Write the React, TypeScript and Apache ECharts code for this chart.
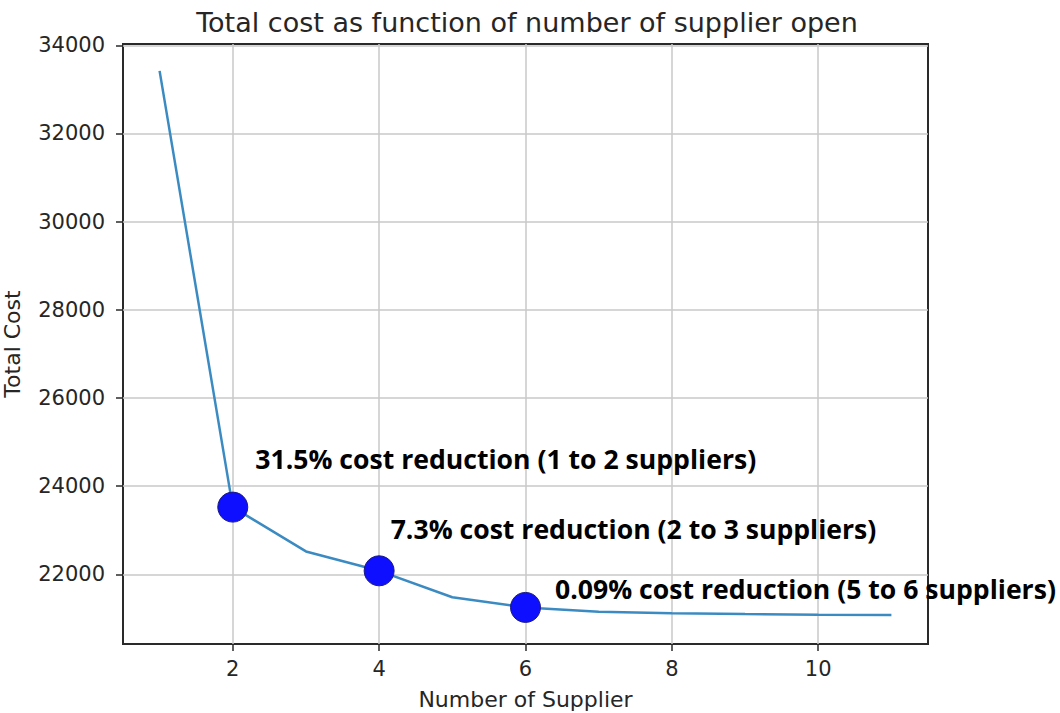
import React, { useEffect, useRef } from "react";
import * as echarts from "echarts";

const suppliers = [1, 2, 3, 4, 5, 6, 7, 8, 9, 10, 11];
const totalCost = [33420, 23525, 22520, 22080, 21480, 21250, 21150, 21120, 21100, 21085, 21075];
const highlightX = [2, 4, 6];
const highlightLabels = [
  "31.5% cost reduction (1 to 2 suppliers)",
  "7.3% cost reduction (2 to 3 suppliers)",
  "0.09% cost reduction (5 to 6 suppliers)",
];
const xTicks = [2, 4, 6, 8, 10];
const yTicks = [22000, 24000, 26000, 28000, 30000, 32000, 34000];

const labelOffsets: [number, number][] = [
  [2, -48],
  [-9, -42],
  [9, -18],
];

export default function App() {
  const ref = useRef<HTMLDivElement>(null);
  useEffect(() => {
    if (!ref.current) return;
    const chart = echarts.init(ref.current, null, { renderer: "svg" });
    const axisFont = { fontFamily: "DejaVu Sans", fontSize: 21, color: "#262626" };
    const highlight = highlightX.map((x, i) => ({
      value: [x, totalCost[suppliers.indexOf(x)]],
      label: {
        show: true,
        position: "right",
        offset: labelOffsets[i],
        formatter: highlightLabels[i],
        fontFamily: "Open Sans",
        fontWeight: "bold",
        fontSize: 26.6,
        color: "#000",
      },
    }));
    chart.setOption({
      animation: false,
      title: {
        text: "Total cost as function of number of supplier open",
        left: 522,
        textAlign: "center",
        top: 4,
        textStyle: { fontFamily: "DejaVu Sans", fontSize: 27, fontWeight: "normal", color: "#262626" },
      },
      grid: {
        left: 123,
        top: 44,
        right: 132,
        bottom: 69,
        show: true,
        borderColor: "#2a2a2a",
        borderWidth: 2,
        containLabel: false,
        outerBoundsMode: "none",
      },
      xAxis: {
        type: "value",
        min: 0.5,
        max: 11.5,
        name: "Number of Supplier",
        nameLocation: "middle",
        nameGap: 44,
        nameTextStyle: { ...axisFont, fontSize: 22 },
        axisLine: { show: false },
        axisTick: { show: true, customValues: xTicks, length: 7, inside: false, lineStyle: { color: "#2a2a2a", width: 1.5 } },
        axisLabel: { customValues: xTicks, ...axisFont, margin: 14, formatter: (v: number) => String(v) },
        splitLine: { show: true, lineStyle: { color: "#c8c8c8", width: 1.5 } },
      },
      yAxis: {
        type: "value",
        min: 20420,
        max: 34030,
        name: "Total Cost",
        nameLocation: "middle",
        nameGap: 100,
        nameTextStyle: { ...axisFont, fontSize: 22 },
        axisLine: { show: false },
        axisTick: { show: true, customValues: yTicks, length: 7, inside: false, lineStyle: { color: "#2a2a2a", width: 1.5 } },
        axisLabel: { customValues: yTicks, ...axisFont, margin: 18, formatter: (v: number) => String(v) },
        splitLine: { show: true, lineStyle: { color: "#c8c8c8", width: 1.5 } },
      },
      series: [
        {
          type: "line",
          data: suppliers.map((x, i) => [x, totalCost[i]]),
          showSymbol: false,
          lineStyle: { color: "#3b8bc2", width: 2.5 },
          z: 2,
        },
        {
          type: "scatter",
          data: highlight,
          symbolSize: 30,
          itemStyle: { color: "#0f0fff", borderColor: "#1a1a80", borderWidth: 1, opacity: 1 },
          z: 3,
        },
      ],
    });
    return () => chart.dispose();
  }, []);
  return <div ref={ref} style={{ width: 1060, height: 713, position: "absolute", left: 0, top: 0 }} />;
}
